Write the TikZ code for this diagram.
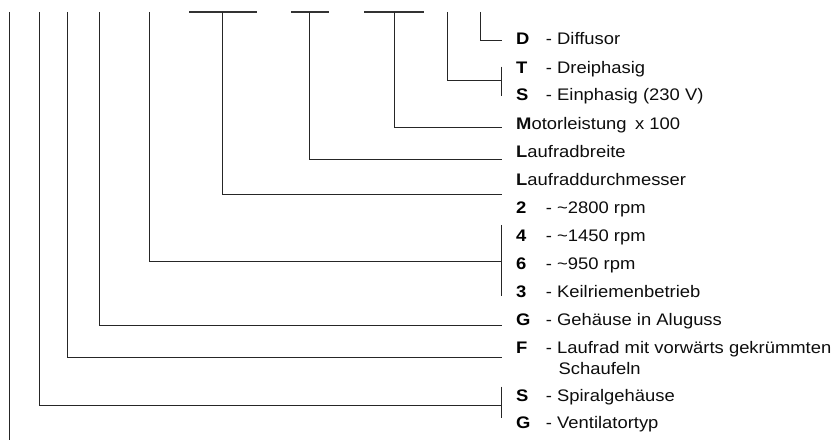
\documentclass[tikz,border=0pt]{standalone}
\usepackage{fontspec}
\setmainfont[FakeStretch=1.1]{Liberation Sans}
\begin{document}
\begin{tikzpicture}[x=1bp,y=-1bp,
  ln/.style={draw=black!85, line width=1bp},
  bar/.style={draw=black!80, line width=1.3bp},
  code/.style={anchor=base west, inner sep=0pt, font=\fontsize{16.8}{20}\selectfont\bfseries, text=black},
  desc/.style={anchor=base west, inner sep=0pt, font=\fontsize{16.8}{20}\selectfont, text=black!95}]
\useasboundingbox (0,0) rectangle (837,441);

% ---- top starting points of the code positions
\coordinate (a0) at (9.5,12);
\coordinate (a1) at (39.5,12);
\coordinate (a2) at (67,12);
\coordinate (a3) at (99.5,12);
\coordinate (a4) at (149.5,12);
\coordinate (a5) at (222,12);
\coordinate (a6) at (309.3,12);
\coordinate (a7) at (394.7,12);
\coordinate (a8) at (447.3,12);
\coordinate (a9) at (480.3,12);

% T-bars at the top
\coordinate (b5l) at (189,12);   \coordinate (b5r) at (257,12);
\coordinate (b6l) at (291,12);   \coordinate (b6r) at (328.7,12);
\coordinate (b7l) at (364.3,12); \coordinate (b7r) at (424.3,12);
\draw[bar] (b5l) -- (b5r);
\draw[bar] (b6l) -- (b6r);
\draw[bar] (b7l) -- (b7r);

% ---- end points near the texts
\coordinate (e0) at (9.5,440);
\coordinate (j1) at (501.7,405);
\coordinate (j2) at (501.7,357.3);
\coordinate (j3) at (501.7,325.5);
\coordinate (j4) at (501.7,261.5);
\coordinate (j5) at (501.7,194.3);
\coordinate (j6) at (501.7,160);
\coordinate (j7) at (501.7,127.7);
\coordinate (j8) at (501.7,81);
\coordinate (j9) at (501.7,41);

% brackets
\coordinate (k1t) at (501.7,386.7); \coordinate (k1b) at (501.7,417.7);
\coordinate (k4t) at (501.7,225);   \coordinate (k4b) at (501.7,296);
\coordinate (k8t) at (501.7,66.7);  \coordinate (k8b) at (501.7,95.7);

% ---- connectors
\draw[ln] (a0) -- (e0);
\draw[ln] (a1) |- (j1);
\draw[ln] (a2) |- (j2);
\draw[ln] (a3) |- (j3);
\draw[ln] (a4) |- (j4);
\draw[ln] (a5) |- (j5);
\draw[ln] (a6) |- (j6);
\draw[ln] (a7) |- (j7);
\draw[ln] (a8) |- (j8);
\draw[ln] (a9) |- (j9);
\draw[ln] (k1t) -- (k1b);
\draw[ln] (k4t) -- (k4b);
\draw[ln] (k8t) -- (k8b);

% ---- texts
\node[code] (cD) at (516,45) {D};
\node[desc] (tD) at (545.7,45) {- Diffusor};
\node[code] (cT) at (516,73.3) {T};
\node[desc] (tT) at (545.7,73.3) {- Dreiphasig};
\node[code] (cS) at (516,101) {S};
\node[desc] (tS) at (545.7,101) {- Einphasig (230 V)};
\node[desc] (tM) at (516,129.3) {\textbf{M}otorleistung\hspace{0.5em}x 100};
\node[desc] (tLb) at (516,157.3) {\textbf{L}aufradbreite};
\node[desc] (tLd) at (516,185.3) {\textbf{L}aufraddurchmesser};
\node[code] (c2) at (516,213.3) {2};
\node[desc] (t2) at (545.7,213.3) {- \char"007E 2800 rpm};
\node[code] (c4) at (516,242) {4};
\node[desc] (t4) at (545.7,242) {- \char"007E 1450 rpm};
\node[code] (c6) at (516,270) {6};
\node[desc] (t6) at (545.7,270) {- \char"007E 950 rpm};
\node[code] (c3) at (516,298) {3};
\node[desc] (t3) at (545.7,298) {- Keilriemenbetrieb};
\node[code] (cG) at (516,326) {G};
\node[desc] (tG) at (545.7,326) {- Gehäuse in Aluguss};
\node[code] (cF) at (516,353.5) {F};
\node[desc] (tF) at (545.7,353.5) {- Laufrad mit vorwärts gekrümmten};
\node[desc] (tF2) at (558.5,374.5) {Schaufeln};
\node[code] (cS2) at (516,401) {S};
\node[desc] (tS2) at (545.7,401) {- Spiralgehäuse};
\node[code] (cG2) at (516,428.5) {G};
\node[desc] (tG2) at (545.7,428.5) {- Ventilatortyp};
\end{tikzpicture}
\end{document}
